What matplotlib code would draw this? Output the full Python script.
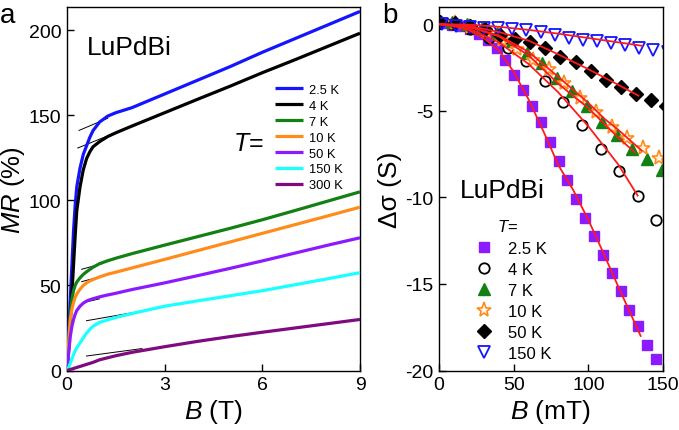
import numpy as np
import matplotlib.pyplot as plt

plt.rcParams['font.family'] = ['Liberation Sans', 'DejaVu Sans']
plt.rcParams['mathtext.fontset'] = 'custom'
plt.rcParams['mathtext.rm'] = 'Liberation Sans'
plt.rcParams['mathtext.it'] = 'Liberation Sans:italic'
plt.rcParams['axes.unicode_minus'] = False

# ---------------- panel a : MR(B) ----------------
B_T = [0, 0.05, 0.1, 0.15, 0.2, 0.25, 0.3, 0.4, 0.5, 0.6, 0.7, 0.8, 1.0, 1.25, 1.5, 2, 3, 4, 5, 6, 7, 8, 9]

mr_2p5K = [0, 22, 42, 62, 82, 97, 108, 119, 127, 132, 137, 141, 146, 149.5, 151.5, 154.5, 162.5, 170.5, 178.5, 187, 195, 203, 211]
mr_4K = [0, 12, 28, 45, 62, 79, 94, 108, 118, 124.5, 128.5, 131.5, 134.5, 137.5, 139.7, 143.7, 151.5, 159.3, 167, 175, 182.6, 190.4, 198.2]
mr_7K = [0, 18, 33, 42, 47, 50, 52, 54.5, 56.5, 58, 59.4, 60.7, 62.8, 64.5, 66, 68.7, 73.7, 78.6, 83.5, 88.6, 94, 99.5, 105]
mr_10K = [0, 16, 30, 36, 40, 43, 45, 47.8, 50, 51.5, 52.6, 53.5, 55, 56.6, 57.8, 60.3, 65.3, 70.4, 75.5, 80.6, 85.7, 90.8, 96]
mr_50K = [0, 10, 20, 26, 30, 33, 35.3, 37.8, 39.6, 40.8, 41.6, 42.2, 43.3, 44.4, 45.4, 47.6, 51.5, 55.7, 60, 64.4, 69, 73.6, 78]
mr_150K = [0, 1.8, 4.2, 6.8, 9.4, 11.5, 13.3, 16.3, 19.2, 22, 24.2, 26, 28.3, 29.8, 31.2, 33.5, 37.8, 40.9, 43.9, 46.9, 50.4, 53.9, 57.5]
mr_300K = [0, 0.3, 0.6, 0.9, 1.2, 1.5, 1.8, 2.4, 3.0, 3.6, 4.2, 4.8, 6.3, 7.5, 8.7, 10.7, 14.0, 17.1, 19.9, 22.5, 25.0, 27.5, 30]

labels_a = ['2.5 K', '4 K', '7 K', '10 K', '50 K', '150 K', '300 K']
curves_a = [mr_2p5K, mr_4K, mr_7K, mr_10K, mr_50K, mr_150K, mr_300K]
colors_a = ['#1414ff', '#000000', '#138013', '#ff8c1a', '#8c1aff', '#1affff', '#800a80']

# range (T) over which the linear high-field fit is drawn
tan_from = [0.37, 0.33, 0.45, 0.45, 0.55, 0.6, 0.6]
tan_to = [1.25, 1.2, 1.1, 1.0, 1.0, 2.3, 2.3]

# ---------------- panel b : delta sigma(B) ----------------
b_2p5K = [3.0, 8.9, 14.9, 20.8, 26.7, 32.7, 38.6, 44.5, 50.4, 56.4, 62.3, 68.2, 74.2, 80.1, 86.0,
          91.9, 97.9, 103.8, 109.7, 115.7, 121.6, 127.5, 133.4, 139.4, 145.3]
ds_2p5K = [0.05, -0.02, -0.12, -0.3, -0.55, -0.92, -1.4, -2.06, -2.94, -3.79, -4.71, -5.65, -6.82, -7.92, -9.01,
           -10.1, -11.19, -12.24, -13.35, -14.35, -15.43, -16.52, -17.42, -18.5, -19.31]
b_4K = [8.7, 21.1, 33.6, 46.0, 58.5, 70.9, 83.3, 95.8, 108.2, 120.7, 133.1, 145.5]
ds_4K = [0.02, -0.3, -0.8, -1.4, -2.1, -3.3, -4.5, -5.8, -7.2, -8.5, -9.93, -11.33]
b_7K = [9, 19, 29, 39, 49, 59, 69, 79, 89, 99, 109, 119, 129, 139, 149]
ds_7K = [0.1, 0.0, -0.2, -0.5, -1.0, -1.65, -2.25, -3.1, -3.85, -4.75, -5.65, -6.4, -7.2, -7.8, -8.45]
b_10K = [0, 10.5, 21, 31.5, 42, 52.5, 63, 73.5, 84, 94.5, 105, 115.5, 126, 136.5, 147]
ds_10K = [0.1, 0.05, -0.15, -0.45, -0.9, -1.45, -2.05, -2.6, -3.4, -4.25, -5.1, -5.95, -6.6, -7.15, -7.7]
b_50K = [0.5, 10.6, 20.7, 30.8, 40.9, 51, 61.1, 71.2, 81.3, 91.4, 101.5, 111.6, 121.7, 131.8, 141.9, 152]
ds_50K = [0.1, 0.05, -0.1, -0.3, -0.6, -0.85, -1.05, -1.4, -1.9, -2.2, -2.7, -3.2, -3.65, -4.05, -4.4, -4.75]
b_150K = [2, 11.3, 20.7, 30.2, 39.6, 49.1, 58.5, 68, 77.4, 86.9, 96.3, 105.8, 115.2, 124.7, 134.1, 143.6, 153]
ds_150K = [0.0, -0.1, -0.15, -0.2, -0.2, -0.3, -0.35, -0.45, -0.65, -0.8, -0.9, -1.0, -1.1, -1.2, -1.4, -1.5, -1.6]

# fitted curves (red)
fit_b_2p5K = [0, 10, 20, 30, 40, 50, 60, 70, 80, 90, 100, 110, 120, 135]
fit_2p5K = [0, -0.08, -0.35, -0.8, -1.5, -2.75, -4.35, -6.2, -8.15, -9.6, -11.3, -13.2, -15.15, -18.0]
fit_b_4K = [0, 20, 40, 60, 80, 100, 120, 133]
fit_4K = [0, -0.25, -1.05, -2.3, -3.95, -5.9, -8.1, -9.9]
fit_b_7K = [0, 20, 40, 60, 80, 100, 120, 131]
fit_7K = [0, -0.15, -0.7, -1.8, -3.45, -4.85, -6.55, -7.4]
fit_b_10K = [0, 20, 40, 60, 71, 80, 100, 111, 120, 135.7]
fit_10K = [0, -0.15, -0.65, -1.6, -2.4, -3.05, -4.55, -5.48, -6.1, -7.3]
fit_b_50K = [0, 20, 40, 60, 80, 100, 120, 133.5]
fit_50K = [0, -0.1, -0.45, -0.95, -1.75, -2.6, -3.5, -4.13]
fit_b_150K = [0, 20, 40, 60, 80, 100, 120, 136]
fit_150K = [0, -0.03, -0.15, -0.33, -0.55, -0.8, -1.05, -1.25]

labels_b = ['2.5 K', '4 K', '7 K', '10 K', '50 K', '150 K']


fig = plt.figure(figsize=(6.79, 4.31), dpi=100)
ax_a = fig.add_axes([0.0987, 0.138, 0.4315, 0.843])
ax_b = fig.add_axes([0.6465, 0.138, 0.33, 0.843])

# panel a
B = np.array(B_T)
for mr, col, lab, t0, t1 in zip(curves_a, colors_a, labels_a, tan_from, tan_to):
    mr = np.array(mr)
    ax_a.plot(B, mr, color=col, lw=2.3, label=lab, zorder=3, solid_capstyle='butt')
    # linear fit to the high-field part, drawn at low field
    k, c = np.polyfit(B[B >= 4], mr[B >= 4], 1)
    bt = np.array([t0, t1])
    ax_a.plot(bt, k * bt + c, color='black', lw=0.7, zorder=2)

ax_a.set_xlim(0, 9)
ax_a.set_ylim(0, 213.5)
ax_a.set_xticks([0, 3, 6, 9])
ax_a.set_yticks([0, 50, 100, 150, 200])
ax_a.set_xlabel('$B$ (T)', fontsize=19, labelpad=3)
ax_a.set_ylabel('$MR$ (%)', fontsize=18.5)
ax_a.yaxis.set_label_coords(-0.135, 0.5)
ax_a.text(0.068, 0.87, 'LuPdBi', transform=ax_a.transAxes, fontsize=19, va='baseline')
ax_a.text(0.567, 0.607, '$T$=', transform=ax_a.transAxes, fontsize=18, va='baseline')
ax_a.legend(loc='upper left', bbox_to_anchor=(0.71, 0.789), frameon=False, fontsize=9.3,
            handlelength=2.2, handletextpad=0.45, labelspacing=0.3, borderpad=0, borderaxespad=0)

# panel b
ax_b.plot(b_2p5K, ds_2p5K, 's', ms=7, color='#8c1aff', mec='#8c1aff', ls='none', label=labels_b[0])
ax_b.plot(b_4K, ds_4K, 'o', ms=7.5, mfc='none', mec='black', mew=1.3, ls='none', label=labels_b[1])
ax_b.plot(b_7K, ds_7K, '^', ms=8.5, color='#138013', ls='none', label=labels_b[2])
ax_b.plot(b_10K, ds_10K, '*', ms=11, mfc='#fff4e6', mec='#ff8c1a', mew=1.2, ls='none', label=labels_b[3])
ax_b.plot(b_50K, ds_50K, 'D', ms=7, color='black', ls='none', label=labels_b[4])
ax_b.plot(b_150K, ds_150K, 'v', ms=8.5, mfc='none', mec='#1414ff', mew=1.3, ls='none', label=labels_b[5])

for fb, fy in [(fit_b_2p5K, fit_2p5K), (fit_b_4K, fit_4K), (fit_b_7K, fit_7K),
               (fit_b_10K, fit_10K), (fit_b_50K, fit_50K), (fit_b_150K, fit_150K)]:
    ax_b.plot(fb, fy, color='#ff1a1a', lw=1.3, zorder=4)

ax_b.set_xlim(0, 150)
ax_b.set_ylim(-20, 0.98)
ax_b.set_xticks([0, 50, 100, 150])
ax_b.set_yticks([0, -5, -10, -15, -20])
ax_b.set_xlabel('$B$ (mT)', fontsize=19, labelpad=3)
ax_b.set_ylabel('Δσ (S)', fontsize=19)
ax_b.yaxis.set_label_coords(-0.165, 0.5)
ax_b.text(0.094, 0.478, 'LuPdBi', transform=ax_b.transAxes, fontsize=19, va='baseline')
ax_b.text(0.259, 0.385, '$T$=', transform=ax_b.transAxes, fontsize=12, va='baseline')
ax_b.legend(loc='upper left', bbox_to_anchor=(0.156, 0.357), frameon=False, fontsize=12,
            handlelength=1.2, handletextpad=0.85, labelspacing=0.36, borderpad=0, borderaxespad=0)

for ax in (ax_a, ax_b):
    ax.tick_params(direction='in', length=5, width=1, labelsize=14, pad=4)
    for s in ax.spines.values():
        s.set_linewidth(1)

fig.text(0.0, 0.9466, 'a', fontsize=20, va='baseline')
fig.text(382 / 679, 0.9466, 'b', fontsize=20, va='baseline')

fig.savefig('out.png', dpi=100)
